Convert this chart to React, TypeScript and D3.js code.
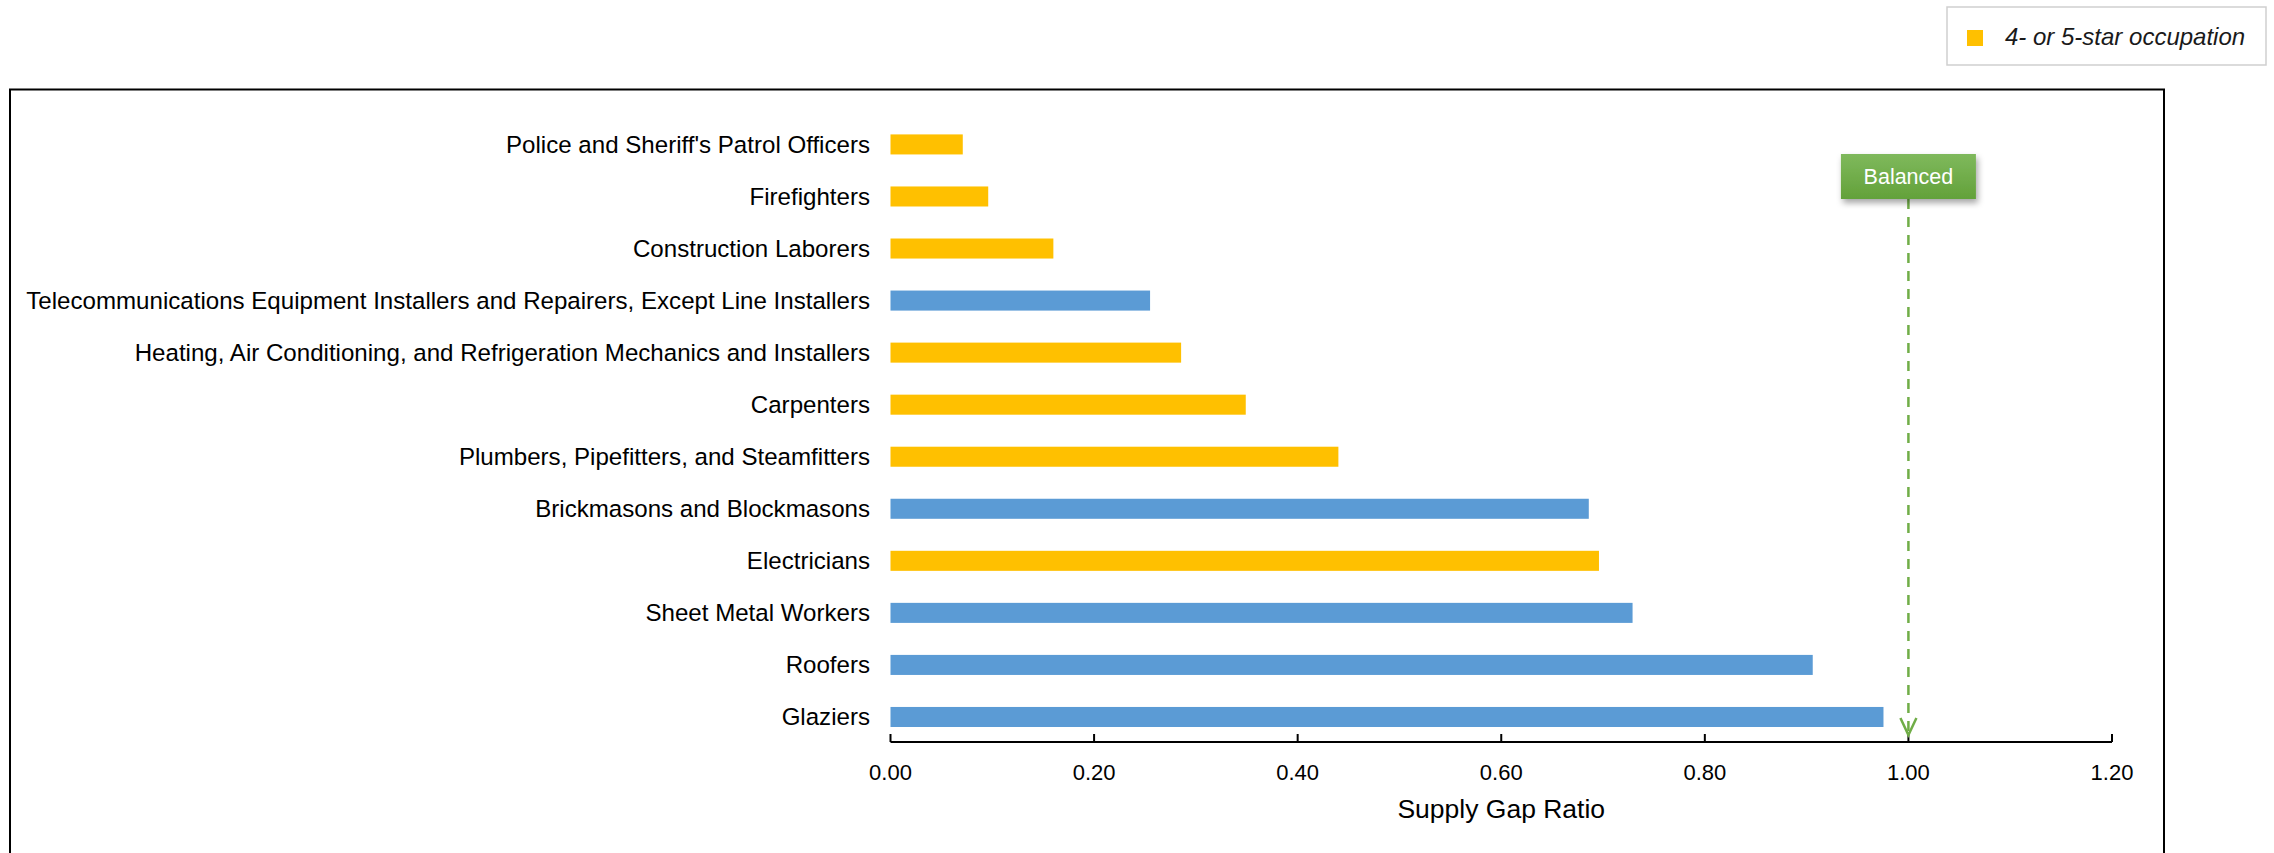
import React from "react";
import * as d3 from "d3";

// Occupations, top to bottom
const occupations: string[] = [
  "Police and Sheriff's Patrol Officers",
  "Firefighters",
  "Construction Laborers",
  "Telecommunications Equipment Installers and Repairers, Except Line Installers",
  "Heating, Air Conditioning, and Refrigeration Mechanics and Installers",
  "Carpenters",
  "Plumbers, Pipefitters, and Steamfitters",
  "Brickmasons and Blockmasons",
  "Electricians",
  "Sheet Metal Workers",
  "Roofers",
  "Glaziers",
];

// Supply gap ratio per occupation
const gapRatios: number[] = [
  0.071, 0.096, 0.16, 0.255, 0.2855, 0.349, 0.44, 0.686, 0.696, 0.729, 0.906, 0.9755,
];

// Whether the occupation is rated 4 or 5 stars
const starRated: boolean[] = [
  true, true, true, false, true, true, true, false, true, false, false, false,
];

const xTicks: number[] = [0, 0.2, 0.4, 0.6, 0.8, 1.0, 1.2];
const balancedValue = 1.0;
const legendLabel = "4- or 5-star occupation";
const axisTitle = "Supply Gap Ratio";
const balancedLabel = "Balanced";

const W = 2274;
const H = 853;
const STAR_COLOR = "#FFC000";
const OTHER_COLOR = "#5B9BD5";
const GREEN = "#70AD47";
const FONT = "Liberation Sans, Arial, Helvetica, sans-serif";

export default function App() {
  const x = d3.scaleLinear().domain([0, 1.2]).range([890.5, 2112]);
  const y = d3
    .scaleBand<string>()
    .domain(occupations)
    .range([118.4, 743])
    .paddingInner(0.615)
    .paddingOuter(0.3075);

  const axisY = 742;
  const bw = y.bandwidth();
  const bx = x(balancedValue);
  const boxW = 135;
  const boxH = 45;
  const boxTop = 154;
  const arrowTip = 735;

  return (
    <svg
      width={W}
      height={H}
      style={{ position: "absolute", left: 0, top: 0, background: "#fff" }}
      fontFamily={FONT}
    >
      <defs>
        <linearGradient id="greenGrad" x1="0" y1="0" x2="0" y2="1">
          <stop offset="0%" stopColor="#7fb95c" />
          <stop offset="100%" stopColor="#63a13a" />
        </linearGradient>
        <filter id="shadow" x="-30%" y="-30%" width="160%" height="180%">
          <feDropShadow dx="2" dy="4" stdDeviation="3" floodColor="#000" floodOpacity="0.35" />
        </filter>
      </defs>

      {/* legend */}
      <rect x={1947} y={7} width={319} height={58} fill="#fff" stroke="#cfcfcf" strokeWidth={1.5} />
      <rect x={1967} y={30} width={16} height={16} fill={STAR_COLOR} />
      <text x={2005} y={45} fontSize={24} fontStyle="italic" fill="#1a1a1a">
        {legendLabel}
      </text>

      {/* chart frame */}
      <rect x={10} y={89.5} width={2154} height={900} fill="none" stroke="#000" strokeWidth={2} />

      {/* bars */}
      {occupations.map((name, i) => (
        <rect
          key={name}
          x={x(0)}
          y={y(name)!}
          width={x(gapRatios[i]) - x(0)}
          height={bw}
          fill={starRated[i] ? STAR_COLOR : OTHER_COLOR}
        />
      ))}

      {/* category labels */}
      {occupations.map((name) => (
        <text
          key={name}
          x={870}
          y={y(name)! + bw / 2}
          dy="0.35em"
          textAnchor="end"
          fontSize={24.1}
          fill="#000"
        >
          {name}
        </text>
      ))}

      {/* x axis */}
      <line x1={x(0)} x2={x(1.2)} y1={axisY} y2={axisY} stroke="#000" strokeWidth={2} />
      {xTicks.map((t) => (
        <g key={t}>
          <line x1={x(t)} x2={x(t)} y1={axisY} y2={axisY - 8} stroke="#000" strokeWidth={2} />
          <text x={x(t)} y={772} dy="0.35em" textAnchor="middle" fontSize={22} fill="#000">
            {d3.format(".2f")(t)}
          </text>
        </g>
      ))}
      <text x={x(0.6)} y={809} dy="0.35em" textAnchor="middle" fontSize={26.5} fill="#000">
        {axisTitle}
      </text>

      {/* balanced marker */}
      <line
        x1={bx}
        x2={bx}
        y1={boxTop + boxH}
        y2={arrowTip - 2}
        stroke={GREEN}
        strokeWidth={2.5}
        strokeDasharray="10 8"
      />
      <path
        d={`M${bx - 8},${arrowTip - 17} L${bx},${arrowTip} L${bx + 8},${arrowTip - 17}`}
        fill="none"
        stroke={GREEN}
        strokeWidth={2.5}
      />
      <rect
        x={bx - boxW / 2}
        y={boxTop}
        width={boxW}
        height={boxH}
        fill="url(#greenGrad)"
        filter="url(#shadow)"
      />
      <text
        x={bx}
        y={boxTop + boxH / 2}
        dy="0.35em"
        textAnchor="middle"
        fontSize={21.5}
        fill="#fff"
      >
        {balancedLabel}
      </text>
    </svg>
  );
}
